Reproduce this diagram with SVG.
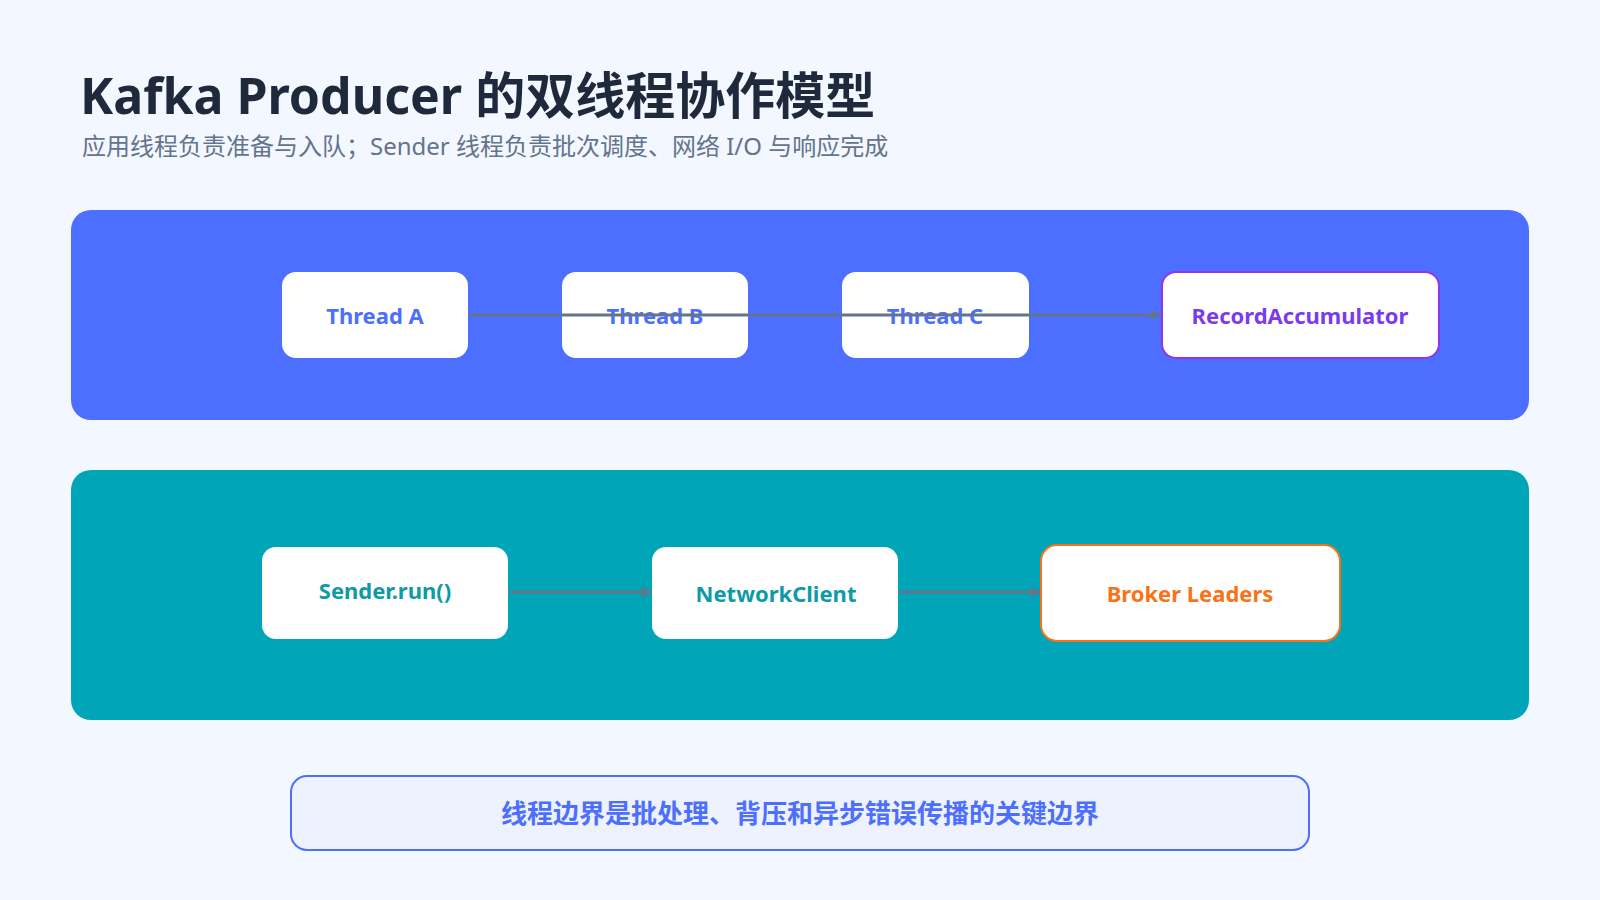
<svg xmlns="http://www.w3.org/2000/svg" width="1600" height="900" viewBox="0 0 1600 900">
<style>
text{font-family:"Noto Sans","Noto Sans CJK SC",sans-serif}
.node{fill:#fff}
.nt{font-size:22px;font-weight:700;text-anchor:middle;dominant-baseline:central}
.conn{stroke:#64748b;stroke-width:3;fill:none;marker-end:url(#ah)}
</style>
<defs><marker id="ah" markerWidth="10" markerHeight="10" refX="9" refY="5" orient="auto" markerUnits="userSpaceOnUse"><path d="M0,0L10,5L0,10z" fill="#64748b"/></marker></defs>
<rect width="1600" height="900" fill="#f3f7ff"/>
<text x="80" y="114" font-size="50" font-weight="700" fill="#1e293b">Kafka Producer 的双线程协作模型</text>
<text x="82" y="155" font-size="24" fill="#64748b">应用线程负责准备与入队；Sender 线程负责批次调度、网络 I/O 与响应完成</text>
<g id="lane-app"><rect x="71" y="210" width="1458" height="210" rx="20" fill="#4c6fff"/></g>
<g id="lane-sender"><rect x="71" y="470" width="1458" height="250" rx="20" fill="#00a6b8"/></g>
<g id="threadA"><rect class="node" x="282" y="272" width="186" height="86" rx="14"/><text class="nt" x="375" y="315" fill="#4c6fff">Thread A</text></g>
<g id="threadB"><rect class="node" x="562" y="272" width="186" height="86" rx="14"/><text class="nt" x="655" y="315" fill="#4c6fff">Thread B</text></g>
<g id="threadC"><rect class="node" x="842" y="272" width="187" height="86" rx="14"/><text class="nt" x="935" y="315" fill="#4c6fff">Thread C</text></g>
<g id="accumulator"><rect class="node" x="1162" y="272" width="277" height="86" rx="14" stroke="#9333ea" stroke-width="2"/><text class="nt" x="1300" y="315" fill="#7c3aed">RecordAccumulator</text></g>
<g id="sender"><rect class="node" x="262" y="547" width="246" height="92" rx="14"/><text class="nt" x="385" y="590" fill="#0e9aa7">Sender.run()</text></g>
<g id="network"><rect class="node" x="652" y="547" width="246" height="92" rx="14"/><text class="nt" x="776" y="593" fill="#0e9aa7">NetworkClient</text></g>
<g id="broker"><rect class="node" x="1041" y="545" width="299" height="96" rx="16" stroke="#f97316" stroke-width="2"/><text class="nt" x="1190" y="593" fill="#f97316">Broker Leaders</text></g>
<g id="connectors">
<line class="conn" x1="469" y1="315" x2="1160" y2="315"/>
<line class="conn" x1="509" y1="592" x2="651" y2="592"/>
<line class="conn" x1="899" y1="592" x2="1040" y2="592"/>
</g>
<g id="note"><rect x="291" y="776" width="1018" height="74" rx="16" fill="#eef2ff" stroke="#4c6fff" stroke-width="2"/><text x="800" y="813" font-size="26" font-weight="700" fill="#4c6fff" text-anchor="middle" dominant-baseline="central">线程边界是批处理、背压和异步错误传播的关键边界</text></g>
</svg>
